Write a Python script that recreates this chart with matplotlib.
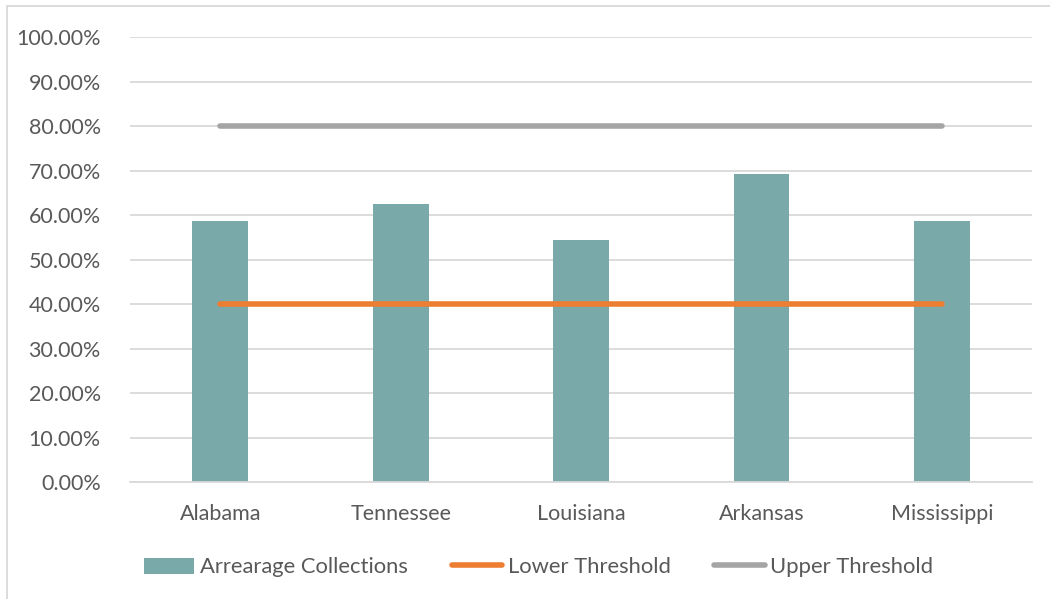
import matplotlib
matplotlib.use("Agg")
import matplotlib.pyplot as plt
import numpy as np
from matplotlib.ticker import PercentFormatter
from matplotlib.patches import Rectangle

states = ["Alabama", "Tennessee", "Louisiana", "Arkansas", "Mississippi"]
collections = [0.588, 0.626, 0.544, 0.694, 0.587]
lower = [0.40, 0.40, 0.40, 0.40, 0.40]
upper = [0.80, 0.80, 0.80, 0.80, 0.80]

teal = "#7AA9A9"
orange = "#ED7D31"
grey = "#A5A5A5"
txt = "#595959"

plt.rcParams['font.family'] = ['Lato', 'DejaVu Sans']

fig = plt.figure(figsize=(10.5, 5.99), dpi=100)
ax = fig.add_axes([0.1238, 0.1953, 0.8592, 0.7421])

x = np.arange(len(states))
bars = ax.bar(x, collections, width=0.31, color=teal, zorder=2, label="Arrearage Collections")
l1, = ax.plot(x, lower, color=orange, lw=4, solid_capstyle="round", zorder=3, label="Lower Threshold")
l2, = ax.plot(x, upper, color=grey, lw=4, solid_capstyle="round", zorder=3, label="Upper Threshold")

ax.set_xlim(-0.5, len(states) - 0.5)
ax.set_ylim(0, 1.0)
ax.set_yticks(np.arange(0, 1.01, 0.1))
ax.yaxis.set_major_formatter(PercentFormatter(1.0, decimals=2))
ax.set_xticks(x)
ax.set_xticklabels(states)
ax.grid(axis="y", color="#D9D9D9", lw=1.3, zorder=0)
for s in ["top", "right", "left"]:
    ax.spines[s].set_visible(False)
ax.spines["bottom"].set_color("#D9D9D9")
ax.spines["bottom"].set_linewidth(1.3)
ax.tick_params(axis="both", length=0, labelsize=15.5, labelcolor=txt)
ax.tick_params(axis="y", pad=21)
ax.tick_params(axis="x", pad=16)

leg = fig.legend([bars, l1, l2], ["Arrearage Collections", "Lower Threshold", "Upper Threshold"],
                 loc="center", bbox_to_anchor=(0.513, 0.053), ncol=3, frameon=False,
                 fontsize=15.8, handlelength=2.3, handletextpad=0.25, columnspacing=2.0,
                 handleheight=0.75)
for t in leg.get_texts():
    t.set_color(txt)

# chart-area border
fig.patches.append(Rectangle((0.0067, -0.01), 1.1, 1.0, transform=fig.transFigure,
                             fill=False, ec="#D9D9D9", lw=1.3))

fig.savefig("out.png", dpi=100)
